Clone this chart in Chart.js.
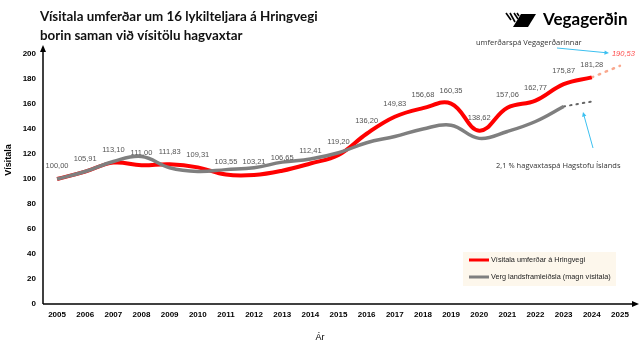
<!DOCTYPE html>
<html>
<head>
<meta charset="utf-8">
<script src="https://cdn.jsdelivr.net/npm/chart.js@4/dist/chart.umd.min.js"></script>
<style>
  html, body { margin: 0; padding: 0; background: #fff; }
  #wrap { width: 640px; height: 358px; position: relative; }
</style>
</head>
<body>
<div id="wrap"><canvas id="myChart" width="640" height="358"></canvas></div>
<script>
// ár á x-ás
var years = ['2005','2006','2007','2008','2009','2010','2011','2012','2013','2014','2015',
             '2016','2017','2018','2019','2020','2021','2022','2023','2024','2025'];
// vísitala umferðar (rauð lína)
var umferd = [100.00, 105.91, 113.10, 111.00, 111.83, 109.31, 103.55, 103.21, 106.65, 112.41, 119.20,
              136.20, 149.83, 156.68, 160.35, 138.62, 157.06, 162.77, 175.87, 181.28, null];
// umferðarspá 2024-2025
var umferdSpa = [null, null, null, null, null, null, null, null, null, null, null,
                 null, null, null, null, null, null, null, null, 181.28, 190.53];
// verg landsframleiðsla (grá lína)
var vlf = [100, 106, 114, 118, 109, 106, 107.5, 109, 113.5, 116, 121,
           129, 134, 140, 143, 132.5, 138, 146, 158, null, null];
// hagvaxtaspá
var vlfSpa = [null, null, null, null, null, null, null, null, null, null, null,
              null, null, null, null, null, null, null, 158, 162, null];
var yTicks = [0, 20, 40, 60, 80, 100, 120, 140, 160, 180, 200];

function fmt(v) { return v.toFixed(2).replace('.', ','); }

function arrow(ctx, x1, y1, x2, y2, col, w, head) {
  var a = Math.atan2(y2 - y1, x2 - x1);
  ctx.save();
  ctx.strokeStyle = col; ctx.fillStyle = col; ctx.lineWidth = w;
  ctx.beginPath(); ctx.moveTo(x1, y1); ctx.lineTo(x2 - Math.cos(a) * head * 0.8, y2 - Math.sin(a) * head * 0.8); ctx.stroke();
  ctx.beginPath();
  ctx.moveTo(x2, y2);
  ctx.lineTo(x2 - head * Math.cos(a - 0.45), y2 - head * Math.sin(a - 0.45));
  ctx.lineTo(x2 - head * Math.cos(a + 0.45), y2 - head * Math.sin(a + 0.45));
  ctx.closePath(); ctx.fill();
  ctx.restore();
}

var extras = {
  id: 'extras',
  beforeDatasetsDraw: function(chart) {
    var ctx = chart.ctx, ca = chart.chartArea;
    // ásar með örvum
    ctx.save();
    ctx.strokeStyle = '#000'; ctx.lineWidth = 1.5;
    ctx.beginPath(); ctx.moveTo(ca.left, ca.bottom); ctx.lineTo(ca.left, ca.top - 4); ctx.stroke();
    ctx.beginPath(); ctx.moveTo(ca.left, ca.bottom); ctx.lineTo(ca.right + 2, ca.bottom); ctx.stroke();
    ctx.fillStyle = '#000';
    ctx.beginPath(); ctx.moveTo(ca.left, ca.top - 9); ctx.lineTo(ca.left - 3, ca.top - 2); ctx.lineTo(ca.left + 3, ca.top - 2); ctx.closePath(); ctx.fill();
    ctx.beginPath(); ctx.moveTo(ca.right + 5, ca.bottom); ctx.lineTo(ca.right - 2, ca.bottom - 3); ctx.lineTo(ca.right - 2, ca.bottom + 3); ctx.closePath(); ctx.fill();
    ctx.restore();
  },
  afterDatasetsDraw: function(chart) {
    var ctx = chart.ctx, ca = chart.chartArea;
    var x = chart.scales.x, y = chart.scales.y;
    ctx.save();
    // gildismerki
    ctx.font = '7.5px "Liberation Sans", Arial, sans-serif';
    ctx.fillStyle = '#555';
    ctx.textAlign = 'center'; ctx.textBaseline = 'bottom';
    umferd.forEach(function(v, i) {
      if (v === null) return;
      ctx.fillText(fmt(v), x.getPixelForValue(i), y.getPixelForValue(v) - 9);
    });
    ctx.font = 'italic 7.5px "Liberation Sans", Arial, sans-serif';
    ctx.fillStyle = '#ff4d4d'; ctx.textAlign = 'left'; ctx.textBaseline = 'middle';
    ctx.fillText(fmt(umferdSpa[20]), x.getPixelForValue(20) - 8, y.getPixelForValue(umferdSpa[20]) - 12);

    // titill, stærð löguð að breidd
    ctx.fillStyle = '#111'; ctx.textAlign = 'left'; ctx.textBaseline = 'alphabetic';
    var t1 = 'Vísitala umferðar um 16 lykilteljara á Hringvegi';
    ctx.font = 'bold 15px Lato, "Noto Sans", sans-serif';
    var fs = 15 * 278 / ctx.measureText(t1).width;
    ctx.font = 'bold ' + fs.toFixed(2) + 'px Lato, "Noto Sans", sans-serif';
    ctx.fillText(t1, 40, 21);
    ctx.fillText('borin saman við vísitölu hagvaxtar', 40, 40);

    // merki Vegagerðarinnar
    ctx.fillStyle = '#000';
    ctx.beginPath(); ctx.moveTo(521, 14); ctx.lineTo(536, 14); ctx.lineTo(528, 27); ctx.lineTo(513, 27); ctx.closePath(); ctx.fill();
    ctx.lineWidth = 1.6; ctx.strokeStyle = '#000';
    [[506, 13, 511, 20], [510, 13, 515, 22], [514, 13, 518, 19], [517, 13, 519, 16]].forEach(function(s) {
      ctx.beginPath(); ctx.moveTo(s[0], s[1]); ctx.lineTo(s[2], s[3]); ctx.stroke();
    });
    ctx.font = 'bold 17px Lato, "Noto Sans", sans-serif';
    ctx.fillText('Vegagerðin', 543, 25);

    // skýringar
    ctx.font = '7.5px "Open Sans", "Liberation Sans", sans-serif';
    ctx.fillStyle = '#333';
    ctx.fillText('umferðarspá Vegagerðarinnar', 476, 45);
    arrow(ctx, 557, 48, 609, 53, '#3cc0f0', 1, 5);
    ctx.fillStyle = '#333';
    ctx.fillText('2,1 % hagvaxtaspá Hagstofu Íslands', 496, 168);
    arrow(ctx, 593, 148, 583, 112, '#3cc0f0', 1, 5);

    // skýringarkassi
    ctx.fillStyle = '#fdf7ec';
    ctx.fillRect(463, 252, 153, 34);
    ctx.lineWidth = 3; ctx.lineCap = 'butt';
    ctx.strokeStyle = '#ff0000';
    ctx.beginPath(); ctx.moveTo(469, 260); ctx.lineTo(489, 260); ctx.stroke();
    ctx.strokeStyle = '#7f7f7f';
    ctx.beginPath(); ctx.moveTo(469, 277); ctx.lineTo(489, 277); ctx.stroke();
    ctx.fillStyle = '#222';
    ctx.font = '7.3px "Liberation Sans", Arial, sans-serif';
    ctx.textBaseline = 'middle';
    ctx.fillText('Vísitala umferðar á Hringvegi', 491, 260);
    ctx.fillText('Verg landsframleiðsla (magn vísitala)', 491, 277);

    // ásaheiti
    ctx.fillStyle = '#000';
    ctx.font = '9px "Liberation Sans", Arial, sans-serif';
    ctx.textAlign = 'center';
    ctx.fillText('Ár', 320, 338);
    ctx.translate(9, 160); ctx.rotate(-Math.PI / 2);
    ctx.font = 'bold 9px "Liberation Sans", Arial, sans-serif';
    ctx.fillText('Vísitala', 0, 0);
    ctx.restore();
  }
};

var ctx = document.getElementById('myChart').getContext('2d');
var myChart = new Chart(ctx, {
  type: 'line',
  data: {
    labels: years,
    datasets: [{
      label: 'Verg landsframleiðsla (magn vísitala)',
      data: vlf,
      borderColor: '#7f7f7f',
      borderWidth: 3.5,
      pointRadius: 0,
      tension: 0.4,
      fill: false
    }, {
      label: 'hagvaxtaspá',
      data: vlfSpa,
      borderColor: '#666',
      borderWidth: 2,
      borderDash: [1.5, 5],
      borderCapStyle: 'round',
      pointRadius: 0,
      tension: 0,
      fill: false
    }, {
      label: 'Vísitala umferðar á Hringvegi',
      data: umferd,
      borderColor: '#ff0000',
      borderWidth: 4,
      pointRadius: 0,
      tension: 0.4,
      fill: false
    }, {
      label: 'umferðarspá',
      data: umferdSpa,
      borderColor: '#f9a88e',
      borderWidth: 2.5,
      borderDash: [1.5, 6],
      borderCapStyle: 'round',
      pointRadius: 0,
      tension: 0,
      fill: false
    }]
  },
  options: {
    responsive: false,
    animation: false,
    layout: { padding: { top: 54, right: 6, left: 0, bottom: 0 } },
    plugins: {
      legend: { display: false },
      tooltip: { enabled: false }
    },
    scales: {
      x: {
        offset: true,
        grid: { display: false, drawTicks: false },
        border: { display: false },
        ticks: {
          color: '#000', padding: 6, maxRotation: 0, autoSkip: false,
          font: { family: '"Liberation Sans", Arial, sans-serif', size: 8, weight: 'bold' }
        },
        afterFit: function(s) { s.height = 54; }
      },
      y: {
        min: 0, max: 200,
        afterBuildTicks: function(s) { s.ticks = yTicks.map(function(v) { return { value: v }; }); },
        grid: { display: false, drawTicks: false },
        border: { display: false },
        ticks: {
          color: '#000', padding: 7,
          font: { family: '"Liberation Sans", Arial, sans-serif', size: 8, weight: 'bold' }
        },
        afterFit: function(s) { s.width = 43; }
      }
    }
  },
  plugins: [extras]
});
</script>
</body>
</html>
